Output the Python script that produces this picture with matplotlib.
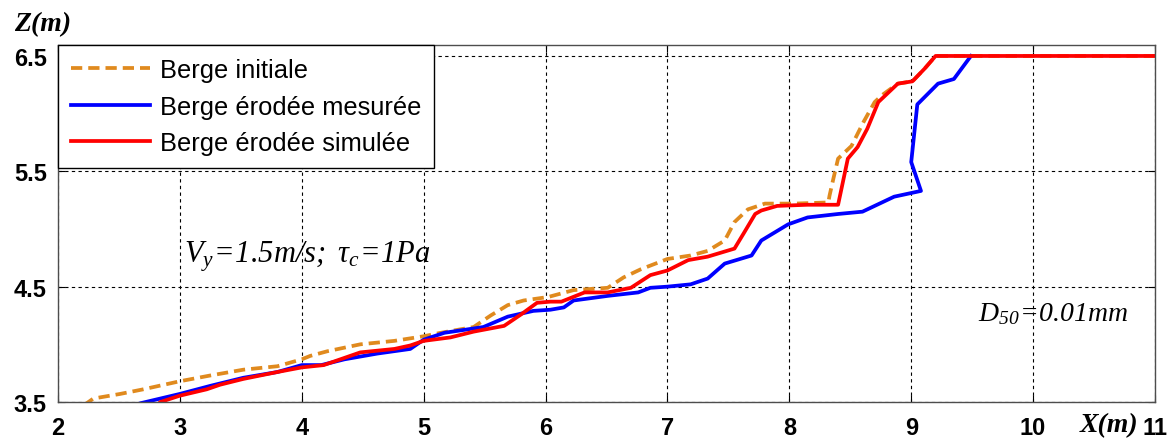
import matplotlib
matplotlib.use("Agg")
import matplotlib.pyplot as plt

# profil de berge : initiale / mesurée / simulée
x_init = [2.21, 2.29, 2.51, 2.70, 3.00, 3.25, 3.52, 3.80, 4.00, 4.07, 4.21, 4.48, 4.76, 5.00, 5.14,
          5.41, 5.55, 5.69, 5.82, 6.02, 6.23, 6.51, 6.64, 6.78, 7.00, 7.19, 7.33, 7.47, 7.55, 7.66,
          7.80, 8.04, 8.32, 8.33, 8.36, 8.40, 8.51, 8.61, 8.70, 8.76, 8.89, 9.01, 9.11, 9.20, 11.0]
z_init = [3.47, 3.53, 3.57, 3.61, 3.68, 3.73, 3.78, 3.81, 3.87, 3.90, 3.94, 4.00, 4.03, 4.07, 4.10,
          4.15, 4.25, 4.34, 4.38, 4.41, 4.47, 4.49, 4.58, 4.65, 4.74, 4.77, 4.81, 4.90, 5.06, 5.17,
          5.22, 5.22, 5.23, 5.29, 5.43, 5.61, 5.72, 5.93, 6.10, 6.16, 6.26, 6.28, 6.39, 6.50, 6.50]

x_mes = [2.62, 2.68, 2.84, 3.00, 3.25, 3.52, 3.80, 4.00, 4.16, 4.35, 4.62, 4.89, 5.00, 5.17, 5.49,
         5.69, 5.90, 6.04, 6.15, 6.23, 6.51, 6.76, 6.86, 7.00, 7.19, 7.33, 7.47, 7.69, 7.77, 7.99,
         8.15, 8.40, 8.60, 8.86, 9.08, 9.00, 9.05, 9.22, 9.35, 9.49]
z_mes = [3.47, 3.49, 3.53, 3.57, 3.64, 3.71, 3.76, 3.82, 3.82, 3.87, 3.92, 3.96, 4.04, 4.10, 4.15,
         4.24, 4.29, 4.30, 4.32, 4.38, 4.42, 4.45, 4.49, 4.50, 4.52, 4.57, 4.70, 4.77, 4.90, 5.04,
         5.10, 5.13, 5.15, 5.28, 5.33, 5.58, 6.08, 6.26, 6.30, 6.50]

x_sim = [2.81, 2.84, 3.00, 3.22, 3.33, 3.52, 3.80, 4.00, 4.18, 4.48, 4.76, 4.89, 5.00, 5.22, 5.41,
         5.66, 5.80, 5.93, 6.04, 6.13, 6.32, 6.51, 6.70, 6.86, 7.00, 7.17, 7.33, 7.55, 7.63, 7.72,
         7.77, 7.90, 8.15, 8.40, 8.48, 8.56, 8.64, 8.73, 8.89, 9.01, 9.11, 9.20, 11.0]
z_sim = [3.47, 3.50, 3.555, 3.61, 3.65, 3.70, 3.76, 3.80, 3.82, 3.93, 3.96, 3.99, 4.03, 4.06, 4.11,
         4.16, 4.26, 4.36, 4.37, 4.37, 4.45, 4.45, 4.49, 4.60, 4.64, 4.73, 4.76, 4.83, 4.97, 5.13,
         5.16, 5.20, 5.21, 5.21, 5.61, 5.71, 5.87, 6.10, 6.26, 6.28, 6.39, 6.50, 6.50]

legendes = ["Berge initiale", "Berge érodée mesurée", "Berge érodée simulée"]
x_ticks = [2, 3, 4, 5, 6, 7, 8, 9, 10, 11]
z_ticks = [3.5, 4.5, 5.5, 6.5]

plt.rcParams["mathtext.fontset"] = "custom"
plt.rcParams["mathtext.rm"] = "Liberation Serif:italic"
plt.rcParams["mathtext.it"] = "Liberation Serif:italic"

fig = plt.figure(figsize=(11.74, 4.39), dpi=100)
ax = fig.add_axes([58 / 1174, 36 / 439, 1097 / 1174, 357 / 439])

ax.plot(x_init, z_init, color="#e08a1e", lw=2.7, dashes=(3.0, 1.6), label=legendes[0])
ax.plot(x_mes, z_mes, color="#0000ff", lw=2.7, label=legendes[1])
ax.plot(x_sim, z_sim, color="#ff0000", lw=2.7, label=legendes[2])

ax.set_xlim(2, 11)
ax.set_ylim(3.5, 6.595)
ax.set_xticks(x_ticks)
ax.set_yticks(z_ticks)
ax.set_xticklabels([str(t) for t in x_ticks], fontweight="bold", family="Liberation Sans", fontsize=17)
ax.set_yticklabels([str(t) for t in z_ticks], fontweight="bold", family="Liberation Sans", fontsize=17)
ax.tick_params(axis="x", pad=10)
ax.tick_params(direction="in", top=True, right=True, length=5, width=0.8)
ax.tick_params(axis="y", pad=8)
ax.grid(True, color="black", linestyle=(0, (3, 3)), linewidth=0.8)
for s in ax.spines.values():
    s.set_color("0.3")
    s.set_linewidth(1.0)

leg = ax.legend(loc="upper left", bbox_to_anchor=(0, 1), borderaxespad=0, fancybox=False,
                edgecolor="black", framealpha=1, prop={"family": "Liberation Sans", "size": 18.4},
                handlelength=3.1, handletextpad=0.38, labelspacing=0.5, borderpad=0.5)
leg.get_frame().set_linewidth(1.0)

ax.text(2 + (183 - 57.5) / 121.8, 3.5 + (403 - 263) / 115.3, r"$V_y\!=\!1.5m/s;\ \tau_c\!=\!1Pa$",
        fontsize=22, va="baseline")
ax.text(2 + (977 - 57.5) / 121.8, 3.5 + (403 - 321) / 115.3, r"$D_{50}\!=\!0.01mm$", fontsize=20,
        va="baseline")

fig.text(14 / 1174, 1 - 31 / 439, "Z(m)", family="Liberation Serif", fontweight="bold",
         fontstyle="italic", fontsize=20, va="baseline")
fig.text(1138 / 1174, 1 - 432 / 439, "X(m)", family="Liberation Serif", fontweight="bold",
         fontstyle="italic", fontsize=20, va="baseline", ha="right")

fig.savefig("out.png", dpi=100)
